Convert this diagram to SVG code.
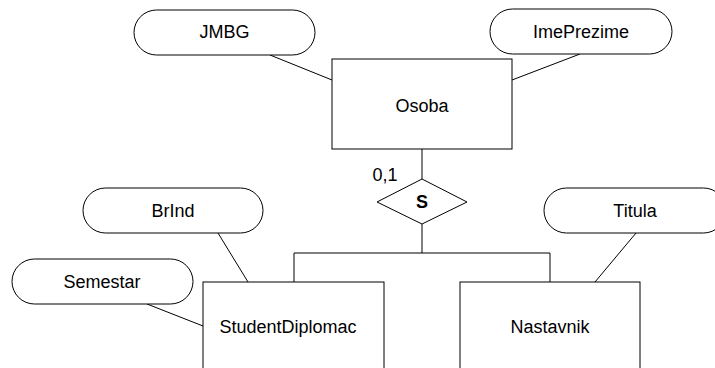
<svg xmlns="http://www.w3.org/2000/svg" width="715" height="368" viewBox="0 0 715 368">
<style>
.shape{fill:#fff;stroke:#000;stroke-width:1}
.ln{fill:none;stroke:#000;stroke-width:1}
text{font-family:"Liberation Sans",Arial,sans-serif;font-size:18px;fill:#000;text-anchor:middle}
.b{font-weight:bold}
</style>
<rect width="715" height="368" fill="#fff"/>
<g id="connectors">
<line class="ln" x1="270" y1="55" x2="332" y2="80"/>
<line class="ln" x1="580" y1="54" x2="512" y2="80"/>
<line class="ln" x1="422" y1="149" x2="422" y2="179"/>
<line class="ln" x1="422" y1="224" x2="422" y2="253"/>
<polyline class="ln" points="294,282 294,253 550,253 550,282"/>
<line class="ln" x1="636" y1="233" x2="595" y2="282"/>
<line class="ln" x1="218" y1="233" x2="248" y2="282"/>
<line class="ln" x1="147" y1="304" x2="203" y2="326"/>
<text x="385" y="181">0,1</text>
</g>
<g id="JMBG">
<rect class="shape" x="134" y="10" width="181" height="45" rx="22.5"/>
<text x="224.5" y="38">JMBG</text>
</g>
<g id="ImePrezime">
<rect class="shape" x="490" y="9" width="182" height="45" rx="22.5"/>
<text x="581" y="38">ImePrezime</text>
</g>
<g id="Osoba">
<rect class="shape" x="332" y="59" width="180" height="90"/>
<text x="422" y="112">Osoba</text>
</g>
<g id="S">
<polygon class="shape" points="422,179 467,202 422,224 377,202"/>
<text class="b" x="422" y="208">S</text>
</g>
<g id="BrInd">
<rect class="shape" x="83" y="188" width="180" height="45" rx="22.5"/>
<text x="173" y="217">BrInd</text>
</g>
<g id="Semestar">
<rect class="shape" x="12" y="259" width="181" height="45" rx="22.5"/>
<text x="102" y="288">Semestar</text>
</g>
<g id="Titula">
<rect class="shape" x="544" y="188" width="182" height="45" rx="22.5"/>
<text x="635" y="217">Titula</text>
</g>
<g id="StudentDiplomac">
<rect class="shape" x="203" y="282" width="181" height="100"/>
<text x="288" y="333">StudentDiplomac</text>
</g>
<g id="Nastavnik">
<rect class="shape" x="460" y="282" width="180" height="100"/>
<text x="550" y="333">Nastavnik</text>
</g>
</svg>
